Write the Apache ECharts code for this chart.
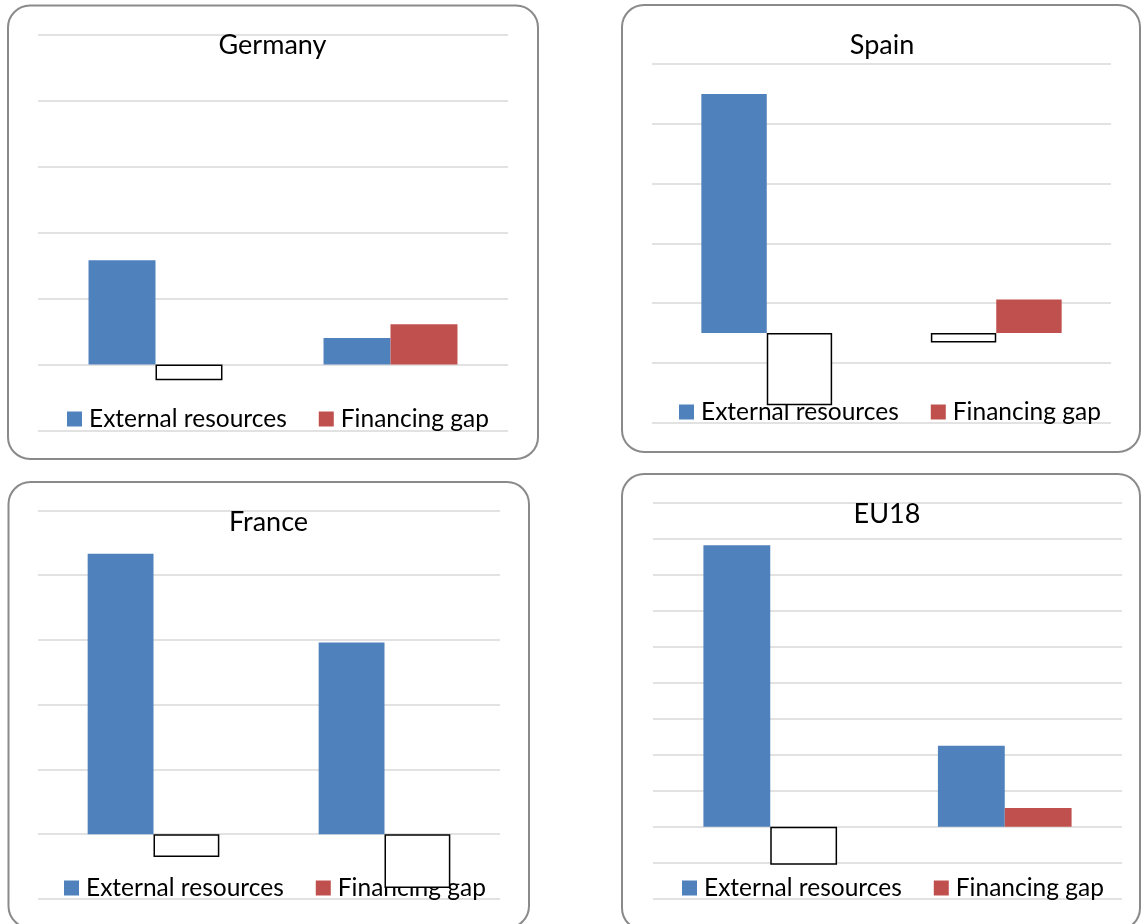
<!DOCTYPE html>
<html>
<head>
<meta charset="utf-8">
<title>External resources and financing gap</title>
<script src="https://cdn.jsdelivr.net/npm/echarts@6/dist/echarts.min.js"></script>
<style>
  html, body { margin: 0; padding: 0; background: #ffffff; }
  #chart { width: 1141px; height: 924px; }
</style>
</head>
<body>
<div id="chart"></div>
<script>
// Two periods per panel; labels are not shown on the axis
const categories = ['Period 1', 'Period 2'];
const seriesNames = ['External resources', 'Financing gap'];

// Panel titles
const panelTitles = ['Germany', 'Spain', 'France', 'EU18'];

// Values per panel (negative values are drawn as hollow bars)
const germanyExternal = [1.58, 0.40];
const germanyGap      = [-0.24, 0.61];
const spainExternal   = [4.00, -0.16];
const spainGap        = [-1.21, 0.56];
const franceExternal  = [4.33, 2.96];
const franceGap       = [-0.35, -0.83];
const eu18External    = [7.82, 2.25];
const eu18Gap         = [-1.06, 0.52];

// Value-axis ranges [min, max, step]
const germanyRange = [-1, 5, 1];
const spainRange   = [-1.5, 4.5, 1];
const franceRange  = [-1, 5, 1];
const eu18Range    = [-2, 9, 1];

const BLUE = '#4F81BD';
const RED = '#C0504D';
const FONT = 'Lato, "Open Sans", "Liberation Sans", sans-serif';

// Layout of each panel: frame, plot area, title and legend placement
const panels = [
  { title: panelTitles[0], ext: germanyExternal, gap: germanyGap, range: germanyRange,
    frame: [8, 5.5, 530, 453.5], grid: [38, 34.5, 470, 396],
    titleX: 272.5, titleY: 45, legendX: 67, legendY: 419 },
  { title: panelTitles[1], ext: spainExternal, gap: spainGap, range: spainRange,
    frame: [622, 5, 518, 447], grid: [652, 64, 459, 358.7],
    titleX: 882, titleY: 45, legendX: 679, legendY: 412 },
  { title: panelTitles[2], ext: franceExternal, gap: franceGap, range: franceRange,
    frame: [8.5, 482, 520.5, 446], grid: [38, 510.3, 462, 388.7],
    titleX: 268.5, titleY: 522, legendX: 64, legendY: 888 },
  { title: panelTitles[3], ext: eu18External, gap: eu18Gap, range: eu18Range,
    frame: [622, 474, 518, 456], grid: [653, 502.7, 469, 396],
    titleX: 887, titleY: 514, legendX: 682, legendY: 888 }
];

const TITLE_SIZE = 27;
const LEGEND_SIZE = 24.5;

// Negative values get a white fill with a black outline
function toItems(values) {
  return values.map(function (v) {
    if (v < 0) {
      return { value: v, itemStyle: { color: '#ffffff', borderColor: '#000000', borderWidth: 1.5 } };
    }
    return v;
  });
}

const option = {
  backgroundColor: '#ffffff',
  animation: false,
  title: [], legend: [], grid: [], xAxis: [], yAxis: [], series: [],
  graphic: []
};

panels.forEach(function (p, i) {
  option.graphic.push({
    type: 'rect', z: -10,
    shape: { x: p.frame[0], y: p.frame[1], width: p.frame[2], height: p.frame[3], r: 22 },
    style: { fill: 'none', stroke: '#8a8a8a', lineWidth: 2 }
  });
  option.title.push({
    text: p.title, left: p.titleX, top: p.titleY - 15, textAlign: 'center', padding: 0,
    textStyle: { fontFamily: FONT, fontSize: TITLE_SIZE, fontWeight: 'normal', color: '#000000',
                 lineHeight: 30 }
  });
  option.legend.push({
    data: seriesNames, left: p.legendX, top: p.legendY - 14, z: 1, padding: 0,
    itemWidth: 15, itemHeight: 15, itemGap: 32, icon: 'rect',
    textStyle: { fontFamily: FONT, fontSize: LEGEND_SIZE, color: '#000000', lineHeight: 28,
                 padding: [0, 0, 0, 2] }
  });
  option.grid.push({
    left: p.grid[0], top: p.grid[1], width: p.grid[2], height: p.grid[3], containLabel: false
  });
  option.xAxis.push({
    type: 'category', gridIndex: i, data: categories,
    axisLine: { show: false }, axisTick: { show: false }, axisLabel: { show: false },
    splitLine: { show: false }
  });
  option.yAxis.push({
    type: 'value', gridIndex: i, min: p.range[0], max: p.range[1], interval: p.range[2],
    axisLine: { show: false }, axisTick: { show: false }, axisLabel: { show: false },
    splitLine: { show: true, lineStyle: { color: '#D9D9D9', width: 1.5 } }
  });
  option.series.push({
    name: seriesNames[0], type: 'bar', xAxisIndex: i, yAxisIndex: i, z: 3,
    barGap: '0%', barCategoryGap: '43%',
    itemStyle: { color: BLUE }, data: toItems(p.ext)
  });
  option.series.push({
    name: seriesNames[1], type: 'bar', xAxisIndex: i, yAxisIndex: i, z: 3,
    barGap: '0%', barCategoryGap: '43%',
    itemStyle: { color: RED }, data: toItems(p.gap)
  });
});

const chart = echarts.init(document.getElementById('chart'), null, { renderer: 'canvas' });
chart.setOption(option);
</script>
</body>
</html>
